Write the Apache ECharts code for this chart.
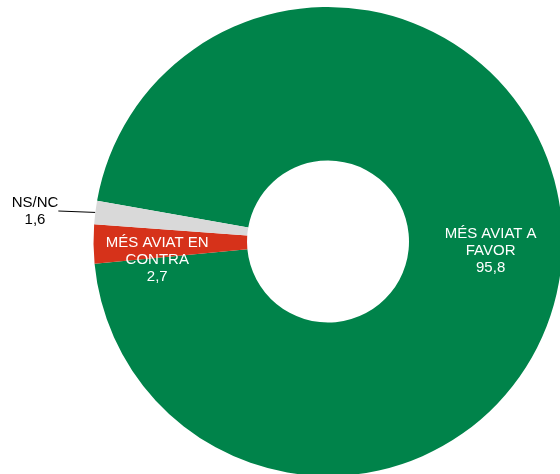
<!DOCTYPE html>
<html>
<head>
<meta charset="utf-8">
<script src="https://cdn.jsdelivr.net/npm/echarts@6/dist/echarts.min.js"></script>
<style>
html,body{margin:0;padding:0;background:#fff;}
#chart{width:560px;height:474px;}
</style>
</head>
<body>
<div id="chart"></div>
<script>
const categories = ['MÉS AVIAT A FAVOR', 'MÉS AVIAT EN CONTRA', 'NS/NC'];
const labelNames = ['MÉS AVIAT A\nFAVOR', 'MÉS AVIAT EN\nCONTRA', 'NS/NC'];
const values = [95.8, 2.7, 1.6];
const valueLabels = ['95,8', '2,7', '1,6'];
const colors = ['#00834A', '#D6321A', '#D9D9D9'];

const chart = echarts.init(document.getElementById('chart'), null, {renderer: 'canvas'});

const data = categories.map((c, i) => {
  const item = {
    name: c,
    value: values[i],
    itemStyle: {color: colors[i]}
  };
  if (i === 2) {
    item.label = {position: 'outside', color: '#000000'};
    item.labelLine = {show: true, length: 10, length2: 0, lineStyle: {color: '#000000', width: 1}};
  }
  return item;
});

const option = {
  backgroundColor: '#ffffff',
  animation: false,
  series: [{
    type: 'pie',
    center: [328, 241.5],
    radius: [81, 234.5],
    startAngle: 170,
    clockwise: true,
    avoidLabelOverlap: false,
    data: data,
    label: {
      show: true,
      position: 'inside',
      color: '#ffffff',
      fontFamily: 'Liberation Sans, Arial, sans-serif',
      fontSize: 15,
      lineHeight: 17,
      align: 'center',
      formatter: p => labelNames[p.dataIndex] + '\n' + valueLabels[p.dataIndex]
    },
    labelLine: {show: false},
    labelLayout: function (p) {
      if (p.dataIndex === 0) return {dx: 2, dy: 3};
      if (p.dataIndex === 1) return {dx: -10, dy: 17};
      return {x: 35, y: 211, align: 'center', verticalAlign: 'middle'};
    }
  }]
};
chart.setOption(option);
</script>
</body>
</html>
